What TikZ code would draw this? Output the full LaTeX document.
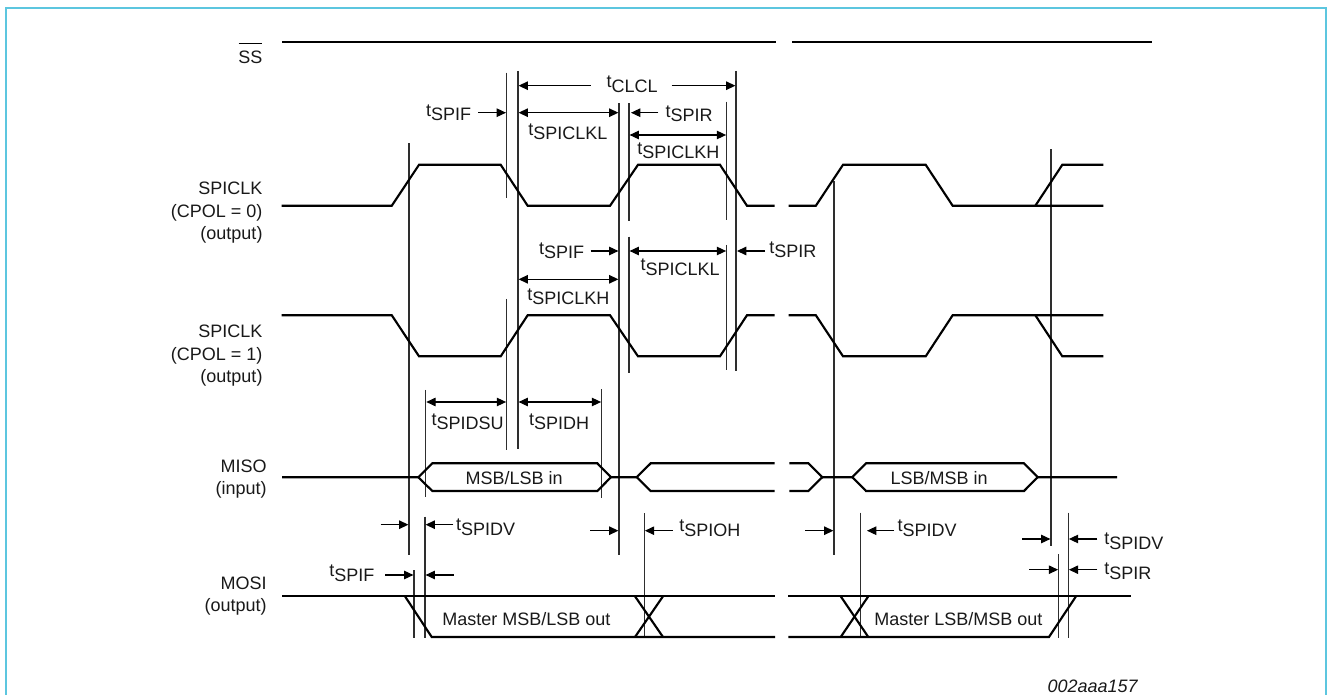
\documentclass[tikz,border=0pt]{standalone}
\usepackage{fontspec}
\setmainfont{Liberation Sans}
\usetikzlibrary{arrows.meta}
\definecolor{frameblue}{HTML}{5CC6DF}
\definecolor{vline}{HTML}{2E2E2E}
\newcommand{\tsub}[1]{\raisebox{3.6pt}{t}#1}
\tikzset{
  x=0.75pt,y=-0.75pt,
  wave/.style={black,line width=1.6pt,line join=miter,line cap=butt},
  guide/.style={vline,line width=0.9pt},
  dim/.style={black,line width=0.8pt,{Triangle[length=7pt,width=6.4pt]}-{Triangle[length=7pt,width=6.4pt]}},
  lead/.style={black,line width=0.8pt,-{Triangle[length=7pt,width=6.4pt]}},
  lab/.style={anchor=base west,inner sep=0pt,outer sep=0pt,font=\fontsize{13.5}{16}\selectfont,text=black!90},
  sig/.style={anchor=base east,inner sep=0pt,outer sep=0pt,font=\fontsize{13.5}{16}\selectfont,text=black!90},
}
\begin{document}
\begin{tikzpicture}
\useasboundingbox (0,0) rectangle (1329,695);
\fill[white] (0,0) rectangle (1329,695);
% frame (open at the bottom)
\draw[frameblue,line width=1.25pt] (5.7,695) -- (5.7,8.2) -- (1325.8,8.2) -- (1325.8,695);

% signal names
\node[sig] (ss) at (262.5,63.7) {SS};
\draw[black,line width=0.7pt] (238.6,43.8) -- (262.3,43.8);
\node[sig] (clk0a) at (262.5,195) {SPICLK};
\node[sig] (clk0b) at (262.5,217.3) {(CPOL = 0)};
\node[sig] (clk0c) at (262.5,239.3) {(output)};
\node[sig] (clk1a) at (262.5,338) {SPICLK};
\node[sig] (clk1b) at (262.5,360.3) {(CPOL = 1)};
\node[sig] (clk1c) at (262.5,382.3) {(output)};
\node[sig] (miso) at (266.7,472.3) {MISO};
\node[sig] (misob) at (266.7,494.5) {(input)};
\node[sig] (mosi) at (266.7,589.2) {MOSI};
\node[sig] (mosib) at (266.7,611.5) {(output)};

% guide lines
\draw[guide] (409,143.3) -- (409,555);
\draw[guide] (506.7,72.7) -- (506.7,198.3);
\draw[guide] (506.7,299) -- (506.7,450);
\draw[guide] (518,71) -- (518,449);
\draw[guide] (619,103.3) -- (619,555);
\draw[guide] (629,103.3) -- (629,220.7);
\draw[guide] (629,236.7) -- (629,372.7);
\draw[guide] (726.7,101.7) -- (726.7,220);
\draw[guide] (726.7,245) -- (726.7,370);
\draw[guide] (736,71) -- (736,371);
\draw[guide] (425.7,390) -- (425.7,497.3);
\draw[guide] (601.7,389.3) -- (601.7,498.3);
\draw[guide] (425,516.7) -- (425,637.7);
\draw[guide] (414,570) -- (414,637.7);
\draw[guide] (644.3,513.3) -- (644.3,637.7);
\draw[guide] (834,181) -- (834,555);
\draw[guide] (860.3,512.7) -- (860.3,637.7);
\draw[guide] (1051,149.3) -- (1051,545.7);
\draw[guide] (1058.7,554) -- (1058.7,637.7);
\draw[guide] (1068.3,512.7) -- (1068.3,637.7);

% SS
\draw[wave] (282,42.3) -- (776,42.3);
\draw[wave] (792,42.3) -- (1152,42.3);

% SPICLK CPOL=0
\draw[wave] (281.5,205.8) -- (391.7,205.8) -- (419,164.8) -- (500.7,164.8) -- (527.7,205.8) -- (610,205.8) -- (638,164.8) -- (720,164.8) -- (747,205.8) -- (774.5,205.8);
\draw[wave] (788.5,205.8) -- (815.8,205.8) -- (843,164.8) -- (925.7,164.8) -- (952.7,205.8) -- (1103.3,205.8);
\draw[wave] (1035.3,205.8) -- (1062.3,164.8) -- (1103.3,164.8);

% SPICLK CPOL=1
\draw[wave] (281.5,315.2) -- (391.7,315.2) -- (419,356.3) -- (500.7,356.3) -- (527.7,315.2) -- (610,315.2) -- (638,356.3) -- (720,356.3) -- (747,315.2) -- (774.5,315.2);
\draw[wave] (788.5,315.2) -- (815.8,315.2) -- (843,356.3) -- (925.7,356.3) -- (952.7,315.2) -- (1103.3,315.2);
\draw[wave] (1035.3,315.2) -- (1062.3,356.3) -- (1103.3,356.3);

% MISO
\draw[wave] (282,477.2) -- (418.3,477.2) -- (432.3,463.3) -- (597.3,463.3) -- (611,477.2) -- (636.7,477.2) -- (650.7,463.3) -- (774.7,463.3);
\draw[wave] (774.7,491) -- (650.7,491) -- (636.7,477.2);
\draw[wave] (418.3,477.2) -- (432.3,491) -- (597.3,491) -- (611,477.2);
\draw[wave] (789.3,463.3) -- (808.3,463.3) -- (822.3,477.2) -- (852.3,477.2) -- (866,463.3) -- (1024,463.3) -- (1037.7,477.2) -- (1117,477.2);
\draw[wave] (789.3,491) -- (808.3,491) -- (822.3,477.2);
\draw[wave] (852.3,477.2) -- (866,491) -- (1024,491) -- (1037.7,477.2);

% MOSI
\draw[wave] (282,596.3) -- (775,596.3);
\draw[wave] (405,596.3) -- (431.7,637) -- (775,637);
\draw[wave] (635,637) -- (663,596.3);
\draw[wave] (635,596.3) -- (663,637);
\draw[wave] (788.3,596.3) -- (1131,596.3);
\draw[wave] (788.3,637) -- (1049,637) -- (1076,596.3);
\draw[wave] (840.7,596.3) -- (868.3,637);
\draw[wave] (840.7,637) -- (868.3,596.3);

% dimension arrows, top group
\draw[lead] (590.7,85.7) -- (518.6,85.7);
\draw[lead] (671.7,85.7) -- (735.4,85.7);
\node[lab] (tclcl) at (606.7,92.7) {\tsub{CLCL}};
\draw[lead] (478.3,112.7) -- (506,112.7);
\node[lab] (tspif1) at (426,121) {\tsub{SPIF}};
\draw[dim] (518.6,112.7) -- (618.4,112.7);
\node[lab] (tsclkl1) at (528.3,140) {\tsub{SPICLKL}};
\draw[lead] (658.3,112.7) -- (631,112.7);
\node[lab] (tspir1) at (665.7,122) {\tsub{SPIR}};
\draw[dim] (629.6,135) -- (726.1,135);
\node[lab] (tsclkh1) at (637.3,159) {\tsub{SPICLKH}};

% dimension arrows, middle group
\draw[lead] (590.7,251) -- (618.4,251);
\node[lab] (tspif2) at (539,259) {\tsub{SPIF}};
\draw[dim] (629.6,251) -- (726.1,251);
\node[lab] (tsclkl2) at (640.7,275.7) {\tsub{SPICLKL}};
\draw[lead] (765,251) -- (737,251);
\node[lab] (tspir2) at (769.3,258) {\tsub{SPIR}};
\draw[dim] (518.6,279.3) -- (618.4,279.3);
\node[lab] (tsclkh2) at (527.3,305) {\tsub{SPICLKH}};

% data set-up and hold
\draw[dim] (426.3,402) -- (506.1,402);
\node[lab] (tsu) at (431.7,430) {\tsub{SPIDSU}};
\draw[dim] (518.6,402) -- (601.1,402);
\node[lab] (th) at (529,430) {\tsub{SPIDH}};
\node[lab] (msbin) at (465.7,484.3) {MSB/LSB in};
\node[lab] (lsbin) at (890.7,484.3) {LSB/MSB in};

% lower group
\draw[lead] (380.7,524.7) -- (408.4,524.7);
\draw[lead] (453.3,524.7) -- (425.6,524.7);
\node[lab] (tdv1) at (456,535) {\tsub{SPIDV}};
\draw[lead] (385.3,575) -- (413.4,575);
\draw[lead] (453.7,575) -- (425.6,575);
\node[lab] (tspif3) at (329.3,581.7) {\tsub{SPIF}};
\draw[lead] (590,530.7) -- (618.4,530.7);
\draw[lead] (672.7,530.7) -- (644.9,530.7);
\node[lab] (toh) at (679.3,536.7) {\tsub{SPIOH}};
\node[lab] (mout) at (442.3,625) {Master MSB/LSB out};

\draw[lead] (805.3,530.7) -- (833.4,530.7);
\draw[lead] (894,530.7) -- (867,530.7);
\node[lab] (tdv2) at (897.7,536.7) {\tsub{SPIDV}};
\draw[lead] (1022.3,539) -- (1050.4,539);
\draw[lead] (1097.3,539) -- (1068.9,539);
\node[lab] (tdv3) at (1104.3,549) {\tsub{SPIDV}};
\draw[lead] (1029.3,569.7) -- (1058.1,569.7);
\draw[lead] (1097.3,569.7) -- (1068.9,569.7);
\node[lab] (tspir3) at (1104.3,579) {\tsub{SPIR}};
\node[lab] (lout) at (874.3,625) {Master LSB/MSB out};

\node[lab,font=\fontsize{13.5}{16}\selectfont\itshape] (code) at (1047.5,692.5) {002aaa157};
\end{tikzpicture}
\end{document}
